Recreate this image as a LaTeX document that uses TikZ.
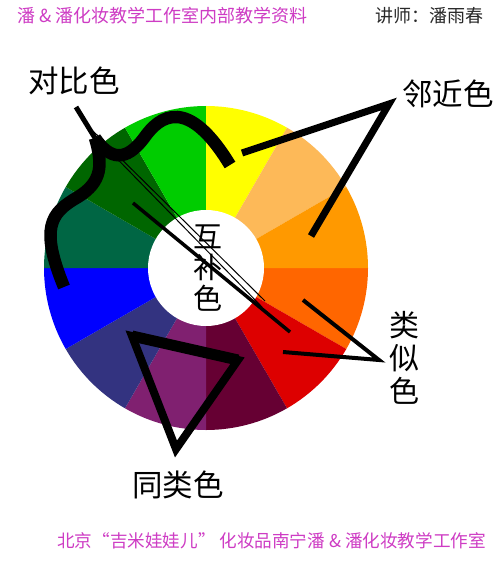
\documentclass[tikz,border=0pt]{standalone}
\usepackage{fontspec}
\setmainfont{Noto Sans CJK SC}
\definecolor{headpink}{RGB}{206,60,196}
\definecolor{teachergray}{RGB}{40,40,40}
\definecolor{wOrange}{RGB}{255,153,0}
\definecolor{wPeach}{RGB}{253,185,88}
\definecolor{wYellow}{RGB}{255,255,0}
\definecolor{wGreen}{RGB}{0,204,0}
\definecolor{wDkGreen}{RGB}{0,102,0}
\definecolor{wTeal}{RGB}{0,102,68}
\definecolor{wBlue}{RGB}{0,0,255}
\definecolor{wNavy}{RGB}{51,51,128}
\definecolor{wPurple}{RGB}{128,32,112}
\definecolor{wMaroon}{RGB}{102,0,51}
\definecolor{wRed}{RGB}{221,0,0}
\definecolor{wOrangeRed}{RGB}{255,102,0}

\begin{document}
\begin{tikzpicture}
[x=1pt, y=-1pt,
cjktag/.style={font=\fontsize{30.5}{31}\selectfont, inner sep=0pt, align=center},
banner/.style={font=\fontsize{18}{20}\selectfont, text=headpink, inner sep=0pt},
wave/.style={line width=12.5pt, line cap=butt},
pointer/.style={line width=7pt, line join=miter},
hair/.style={line width=1pt}
]
  \useasboundingbox (0,0) rectangle (500,564);
  \fill[white] (0,0) rectangle (500,564);

  % colour wheel
  \coordinate (wheel) at (206,268);
  \foreach \a/\col in {0/wOrangeRed, 30/wRed, 60/wMaroon, 90/wPurple,
                       120/wNavy, 150/wBlue, 180/wTeal, 210/wDkGreen,
                       240/wGreen, 270/wYellow, 300/wPeach, 330/wOrange}
    \fill[\col] (wheel) -- +(\a:162) arc[start angle=\a, end angle=\a+30, radius=162] -- cycle;
  \fill[white] (wheel) circle[radius=58];

  \node[banner, anchor=west]             (header)  at (17,16)  {潘 \& 潘化妆教学工作室内部教学资料};
  \node[banner, anchor=east, text=teachergray] (teacher) at (484,16) {讲师：潘雨春};
  \node[banner, anchor=east, font=\fontsize{17.6}{20}\selectfont] (footer) at (486,541) {北京“吉米娃娃儿” 化妆品南宁潘 \& 潘化妆教学工作室};

  \node[cjktag] (duibi)   at (74,81)   {对比色};
  \node[cjktag] (linjin)  at (448,94)  {邻近色};
  \node[cjktag] (tonglei) at (178,485) {同类色};
  \node[cjktag, font=\fontsize{30}{33}\selectfont] (leisi) at (404,358) {类\\似\\色};
  \node[cjktag, font=\fontsize{29}{31}\selectfont] (hubu) at (208,268) {互\\补\\色};

  % contrast: brace and hair lines
  \coordinate (dbTip)  at (76,107);
  \coordinate (dbJoin) at (95,138);
  \coordinate (dbEndA) at (230,165);
  \coordinate (dbEndB) at (64,287);
  \draw[line width=5pt] (dbTip) -- (dbJoin);
  \draw[wave] (dbJoin) .. controls (110,160) and (126,162) .. (144,138)
                       .. controls (160,115) and (188,96) .. (dbEndA);
  \draw[wave] (dbJoin) .. controls (103,165) and (102,182) .. (78,197)
                       .. controls (50,213) and (40,228) .. (dbEndB);
  \coordinate (hairEnd) at (262,307);
  \draw[hair] (89,130) -- (hairEnd);
  \draw[hair] (93,131) -- (265,301);
  \draw[line width=3.5pt] (133,203) -- (290,332);

  % neighbour
  \coordinate (njVertex) at (389,104);
  \draw[pointer] (242,153) -- (njVertex) -- (311,236);

  % analogous
  \coordinate (lsVertex) at (379,360);
  \draw[line width=4pt, line join=miter] (303,300) -- (lsVertex) -- (283,352);

  % same family
  \coordinate (tlA) at (132,336);
  \coordinate (tlB) at (238,360);
  \coordinate (tlC) at (176,449);
  \draw[pointer, line width=8pt] (tlA) -- (tlB) -- (tlC) -- cycle;
  \draw[line width=11pt] (tlA) -- (tlB);
\end{tikzpicture}
\end{document}
